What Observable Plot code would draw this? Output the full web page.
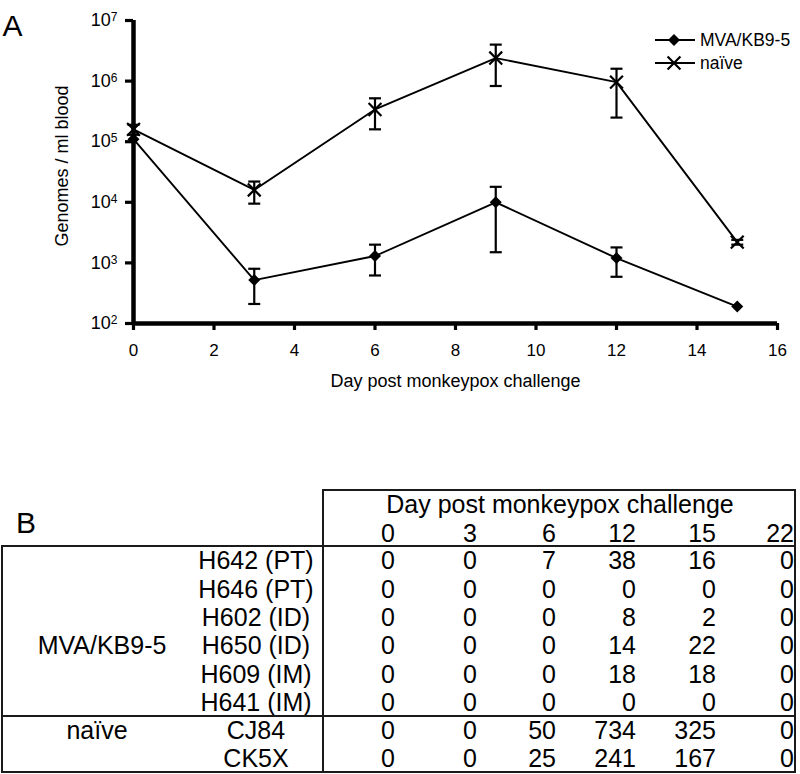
<!DOCTYPE html>
<html>
<head>
<meta charset="utf-8">
<script src="https://cdn.jsdelivr.net/npm/d3@7"></script>
<script src="https://cdn.jsdelivr.net/npm/@observablehq/plot@0.6"></script>
<style>
  html, body { margin: 0; padding: 0; background: #fff; }
  #wrap { position: relative; width: 800px; height: 774px; overflow: hidden; font-family: "Liberation Sans", Arial, sans-serif; color: #000; }
  #wrap svg { display: block; }
  .legend-row { position: absolute; left: 653px; height: 20px; line-height: 20px; font-size: 17.5px; white-space: nowrap; }
  .legend-row svg { position: absolute; left: 0; top: 0; }
  .legend-row span { position: absolute; left: 47px; top: 0; }
  #labelB { position: absolute; left: 16px; top: 508px; font-size: 30px; line-height: 30px; }
  .cell { position: absolute; height: 28px; line-height: 28px; font-size: 25px; white-space: nowrap; }
  .hline, .vline { position: absolute; background: #1a1a1a; }
</style>
</head>
<body>
<div id="wrap"></div>
<script>
// ---------- Panel A data ----------
const days = [0, 3, 6, 9, 12, 15];
const mvaMean = [1.1e5, 5.2e2, 1.3e3, 1.0e4, 1.2e3, 1.9e2];
const mvaLo   = [null, 2.1e2, 6.2e2, 1.5e3, 5.9e2, null];
const mvaHi   = [null, 8.0e2, 2.0e3, 1.8e4, 1.8e3, null];
const naiveMean = [1.6e5, 1.6e4, 3.4e5, 2.4e6, 9.6e5, 2.2e3];
const naiveLo   = [1.3e5, 9.5e3, 1.6e5, 8.3e5, 2.5e5, 2.0e3];
const naiveHi   = [1.9e5, 2.2e4, 5.2e5, 4.0e6, 1.6e6, 2.4e3];
const seriesNames = ["MVA/KB9-5", "naïve"];
const xTicks = [0, 2, 4, 6, 8, 10, 12, 14, 16];
const yTicks = [1e2, 1e3, 1e4, 1e5, 1e6, 1e7];
const xLabel = "Day post monkeypox challenge";
const yLabel = "Genomes / ml blood";

// ---------- Panel B data ----------
const tableTitle = "Day post monkeypox challenge";
const tableDays = [0, 3, 6, 12, 15, 22];
const tableGroups = ["MVA/KB9-5", "naïve"];
const tableAnimals = ["H642 (PT)", "H646 (PT)", "H602 (ID)", "H650 (ID)", "H609 (IM)", "H641 (IM)", "CJ84", "CK5X"];
const tableAnimalGroup = [0, 0, 0, 0, 0, 0, 1, 1];
const tableCounts = [
  [0, 0, 7, 38, 16, 0],
  [0, 0, 0, 0, 0, 0],
  [0, 0, 0, 8, 2, 0],
  [0, 0, 0, 14, 22, 0],
  [0, 0, 0, 18, 18, 0],
  [0, 0, 0, 0, 0, 0],
  [0, 0, 50, 734, 325, 0],
  [0, 0, 25, 241, 167, 0]
];

// ---------- build records ----------
const mvaData = days.map((d, i) => ({day: d, v: mvaMean[i], lo: mvaLo[i], hi: mvaHi[i]}));
const naiveData = days.map((d, i) => ({day: d, v: naiveMean[i], lo: naiveLo[i], hi: naiveHi[i]}));
const errData = [...mvaData, ...naiveData].filter(d => d.lo != null && d.hi != null);
const capData = errData.flatMap(d => [{day: d.day, v: d.lo}, {day: d.day, v: d.hi}]);

const capSymbol = {
  draw(ctx, size) { const w = Math.sqrt(size); ctx.moveTo(-w / 2, 0); ctx.lineTo(w / 2, 0); }
};

const font = "'Liberation Sans', Arial, sans-serif";
const chart = Plot.plot({
  width: 800,
  height: 400,
  marginLeft: 133,
  marginRight: 23,
  marginTop: 20,
  marginBottom: 77,
  style: {fontFamily: font, fontSize: "18px", color: "#000", background: "#fff", overflow: "visible"},
  x: {domain: [0, 16]},
  y: {type: "log", domain: [1e2, 1e7]},
  marks: [
    Plot.axisX({ticks: xTicks, tickSize: 7, tickPadding: 13, strokeWidth: 3.2, label: null, fontSize: 17, tickFormat: d => String(d)}),
    Plot.axisY({ticks: yTicks, tickSize: 8, tickPadding: 8, strokeWidth: 3.2, label: null, fontSize: 18,
      tickFormat: d => "10^" + Math.round(Math.log10(d))}),
    Plot.ruleX([0], {stroke: "#000", strokeWidth: 4.5}),
    Plot.ruleY([1e2], {stroke: "#000", strokeWidth: 4.5}),
    Plot.line(naiveData, {x: "day", y: "v", stroke: "#000", strokeWidth: 1.9}),
    Plot.line(mvaData, {x: "day", y: "v", stroke: "#000", strokeWidth: 1.9}),
    Plot.ruleX(errData, {x: "day", y1: "lo", y2: "hi", stroke: "#000", strokeWidth: 2.2}),
    Plot.dot(capData, {x: "day", y: "v", symbol: capSymbol, r: 6.77, fill: "none", stroke: "#000", strokeWidth: 2.2}),
    Plot.dot(mvaData, {x: "day", y: "v", symbol: "diamond2", r: 5.4, fill: "#000", stroke: "none"}),
    Plot.dot(naiveData, {x: "day", y: "v", symbol: "times", r: 5.9, fill: "none", stroke: "#000", strokeWidth: 2.2}),
    Plot.text([xLabel], {frameAnchor: "bottom", dy: 58, fontSize: 18, textAnchor: "middle", lineAnchor: "middle"}),
    Plot.text([yLabel], {frameAnchor: "left", rotate: -90, dx: -71, dy: -6, fontSize: 18, textAnchor: "middle", lineAnchor: "middle"}),
    Plot.text(["A"], {frameAnchor: "top-left", dx: -121, dy: 6, fontSize: 30, textAnchor: "middle", lineAnchor: "middle"})
  ]
});

// superscript exponents for y tick labels
chart.querySelectorAll('g[aria-label="y-axis tick label"] text').forEach(t => {
  const parts = t.textContent.split("^");
  if (parts.length !== 2) return;
  t.textContent = "";
  const ns = "http://www.w3.org/2000/svg";
  const base = document.createElementNS(ns, "tspan");
  base.textContent = parts[0];
  const sup = document.createElementNS(ns, "tspan");
  sup.textContent = parts[1];
  sup.setAttribute("font-size", "12");
  sup.setAttribute("dy", "-5");
  t.appendChild(base);
  t.appendChild(sup);
});

const wrap = document.getElementById("wrap");
wrap.appendChild(chart);

// ---------- legend ----------
const legendSymbols = [d3.symbol(d3.symbolDiamond2, Math.PI * 5.4 * 5.4)(), d3.symbol(d3.symbolTimes, Math.PI * 5.9 * 5.9)()];
const legendTops = [30, 53];
seriesNames.forEach((name, i) => {
  const row = document.createElement("div");
  row.className = "legend-row";
  row.style.top = legendTops[i] + "px";
  const sw = d3.create("svg").attr("width", 46).attr("height", 20);
  sw.append("line").attr("x1", 2).attr("x2", 42).attr("y1", 10).attr("y2", 10).attr("stroke", "#000").attr("stroke-width", 2);
  sw.append("path").attr("d", legendSymbols[i]).attr("transform", "translate(21,10)")
    .attr("fill", i === 0 ? "#000" : "none").attr("stroke", i === 0 ? "none" : "#000").attr("stroke-width", 2.2);
  row.appendChild(sw.node());
  const sp = document.createElement("span");
  sp.textContent = name;
  row.appendChild(sp);
  wrap.appendChild(row);
});

// ---------- Panel B (table layout) ----------
const lb = document.createElement("div");
lb.id = "labelB";
lb.textContent = "B";
wrap.appendChild(lb);

const colRight = [395, 477, 556, 636, 716, 794];
const animalCenter = 256;
const groupCenter = [102, 97];
const groupRow = [3, 6];
const titleCenterX = 560;
const titleCenterY = 503.5;
const dayHeaderY = 532.5;
const bodyTop = 560;
const rowPitch = 28.3;
const capOffset = 13.7;

function cell(text, y, opts) {
  const d = document.createElement("div");
  d.className = "cell";
  d.textContent = text;
  d.style.top = (y - capOffset) + "px";
  if (opts.right != null) { d.style.left = (opts.right - 120) + "px"; d.style.width = "120px"; d.style.textAlign = "right"; }
  else { d.style.left = (opts.center - 200) + "px"; d.style.width = "400px"; d.style.textAlign = "center"; }
  wrap.appendChild(d);
}
function hline(x1, x2, y, w = 2) {
  const d = document.createElement("div"); d.className = "hline";
  Object.assign(d.style, {left: x1 + "px", width: (x2 - x1) + "px", top: (y - w / 2) + "px", height: w + "px"});
  wrap.appendChild(d);
}
function vline(x, y1, y2, w = 2) {
  const d = document.createElement("div"); d.className = "vline";
  Object.assign(d.style, {left: (x - w / 2) + "px", width: w + "px", top: y1 + "px", height: (y2 - y1) + "px"});
  wrap.appendChild(d);
}

cell(tableTitle, titleCenterY, {center: titleCenterX});
tableDays.forEach((d, j) => cell(String(d), dayHeaderY, {right: colRight[j]}));
tableAnimals.forEach((a, r) => {
  const y = bodyTop + r * rowPitch;
  cell(a, y, {center: animalCenter});
  tableCounts[r].forEach((v, j) => cell(String(v), y, {right: colRight[j]}));
});
tableGroups.forEach((g, gi) => cell(g, bodyTop + groupRow[gi] * rowPitch, {center: groupCenter[gi]}));

hline(322, 796, 490);
hline(1, 796, 546, 2.5);
hline(1, 796, 716);
hline(1, 796, 772);
vline(323, 489, 773);
vline(795, 489, 773);
vline(2, 545, 773);
</script>
</body>
</html>
